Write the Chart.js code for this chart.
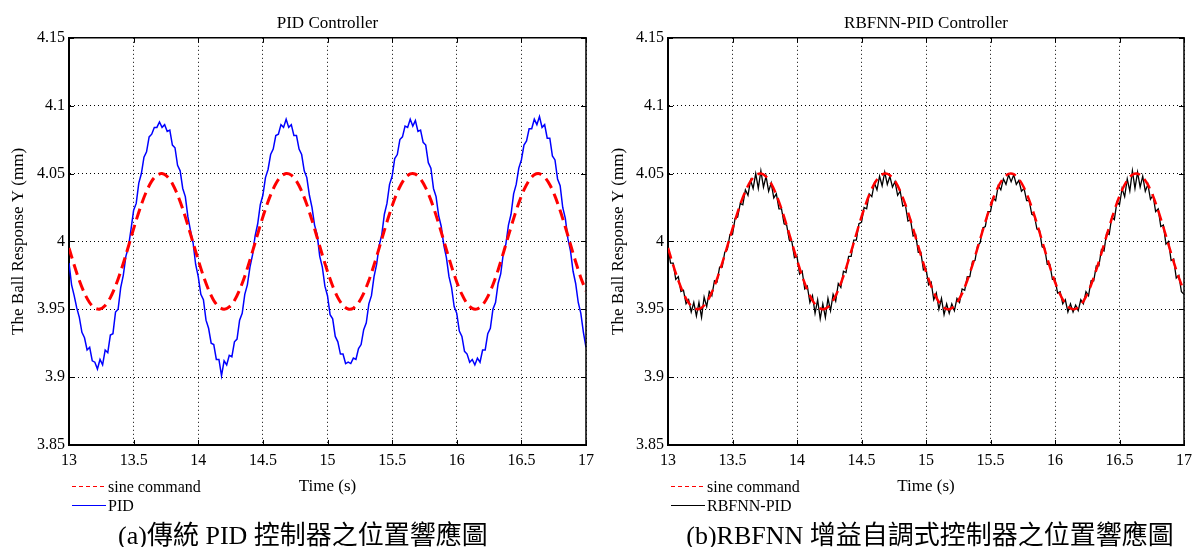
<!DOCTYPE html>
<html>
<head>
<meta charset="utf-8">
<script src="https://cdn.jsdelivr.net/npm/chart.js@4.4.1/dist/chart.umd.min.js"></script>
<style>
  html, body { margin: 0; padding: 0; background: #fff; }
  body { position: relative; width: 1198px; height: 547px; overflow: hidden; }
  canvas { position: absolute; top: 0; }
  #pidChart { left: 0; }
  #rbfnnChart { left: 600px; }
  .caption {
    position: absolute; top: 523px; color: #000; text-align: center; white-space: nowrap;
    font: 26px/26px 'Liberation Serif', 'Noto Sans CJK TC', serif;
  }
</style>
</head>
<body>
<canvas id="pidChart" width="600" height="547"></canvas>
<canvas id="rbfnnChart" width="598" height="547"></canvas>
<div class="caption" style="left:0;width:606px">(a)傳統 PID 控制器之位置響應圖</div>
<div class="caption" style="left:600px;width:660px">(b)RBFNN 增益自調式控制器之位置響應圖</div>
<script>
const serif = "'Liberation Serif', 'Times New Roman', serif";

const xTicks = [13, 13.5, 14, 14.5, 15, 15.5, 16, 16.5, 17];
const xTickLabels = ['13', '13.5', '14', '14.5', '15', '15.5', '16', '16.5', '17'];
const yTicks = [3.85, 3.9, 3.95, 4, 4.05, 4.1, 4.15];
const yTickLabels = ['3.85', '3.9', '3.95', '4', '4.05', '4.1', '4.15'];

// reference sine, sampled every 0.04 s from 13 s
const commandStart = 13;
const commandStep = 0.04;
const sineCommand = [
  3.9952, 3.9826, 3.9712, 3.9617, 3.9548, 3.9508, 3.9502, 3.9528, 3.9586, 3.9671,
  3.9779, 3.9900, 4.0029, 4.0156, 4.0272, 4.0370, 4.0444, 4.0488, 4.0500, 4.0478,
  4.0425, 4.0343, 4.0239, 4.0118, 3.9990, 3.9863, 3.9744, 3.9643, 3.9565, 3.9517,
  3.9500, 3.9517, 3.9565, 3.9643, 3.9744, 3.9863, 3.9990, 4.0119, 4.0239, 4.0343,
  4.0425, 4.0478, 4.0500, 4.0488, 4.0444, 4.0370, 4.0272, 4.0156, 4.0029, 3.9900,
  3.9778, 3.9671, 3.9586, 3.9528, 3.9502, 3.9508, 3.9548, 3.9617, 3.9712, 3.9826,
  3.9952, 4.0081, 4.0204, 4.0314, 4.0403, 4.0465, 4.0497, 4.0495, 4.0460, 4.0395,
  4.0304, 4.0192, 4.0068, 3.9939, 3.9814, 3.9701, 3.9609, 3.9542, 3.9506, 3.9503,
  3.9532, 3.9593, 3.9681, 3.9790, 3.9913, 4.0042, 4.0168, 4.0283, 4.0379, 4.0450,
  4.0491, 4.0499, 4.0474, 4.0418, 4.0334, 4.0227, 4.0106, 3.9977, 3.9850, 3.9733,
  3.9634
];

// measured ball position, sampled every 0.02 s from 13 s
const responseStart = 13;
const responseStep = 0.02;
const pidResponse = [
  3.984, 3.968, 3.960, 3.951, 3.944, 3.933, 3.929, 3.920, 3.922, 3.912,
  3.911, 3.906, 3.913, 3.909, 3.920, 3.918, 3.931, 3.932, 3.948, 3.950,
  3.966, 3.975, 3.989, 3.996, 4.009, 4.023, 4.028, 4.043, 4.050, 4.062,
  4.066, 4.077, 4.079, 4.084, 4.084, 4.088, 4.084, 4.086, 4.081, 4.082,
  4.071, 4.069, 4.056, 4.052, 4.039, 4.033, 4.018, 4.008, 3.999, 3.983,
  3.974, 3.961, 3.957, 3.942, 3.936, 3.925, 3.924, 3.913, 3.913, 3.901,
  3.912, 3.909, 3.916, 3.915, 3.926, 3.928, 3.942, 3.947, 3.961, 3.968,
  3.981, 3.990, 4.004, 4.013, 4.027, 4.034, 4.047, 4.053, 4.064, 4.068,
  4.078, 4.079, 4.086, 4.084, 4.090, 4.084, 4.086, 4.078, 4.078, 4.068,
  4.064, 4.052, 4.047, 4.034, 4.025, 4.012, 4.005, 3.989, 3.981, 3.967,
  3.960, 3.946, 3.943, 3.930, 3.926, 3.917, 3.917, 3.910, 3.911, 3.910,
  3.914, 3.913, 3.921, 3.924, 3.935, 3.940, 3.954, 3.960, 3.974, 3.983,
  3.997, 4.005, 4.020, 4.028, 4.042, 4.048, 4.061, 4.064, 4.075, 4.077,
  4.085, 4.084, 4.090, 4.085, 4.089, 4.081, 4.082, 4.073, 4.071, 4.058,
  4.054, 4.039, 4.033, 4.019, 4.011, 3.997, 3.988, 3.974, 3.966, 3.952,
  3.947, 3.934, 3.930, 3.919, 3.917, 3.911, 3.913, 3.909, 3.914, 3.911,
  3.920, 3.920, 3.932, 3.936, 3.950, 3.955, 3.969, 3.976, 3.991, 3.998,
  4.012, 4.020, 4.035, 4.042, 4.054, 4.060, 4.071, 4.074, 4.083, 4.083,
  4.090, 4.086, 4.092, 4.084, 4.086, 4.076, 4.076, 4.063, 4.060, 4.046,
  4.041, 4.025, 4.017, 4.002, 3.993, 3.978, 3.969, 3.955, 3.947, 3.933,
  3.922
];
const rbfnnResponse = [
  3.995, 3.984, 3.984, 3.972, 3.974, 3.963, 3.964, 3.954, 3.957, 3.948,
  3.955, 3.945, 3.955, 3.944, 3.959, 3.952, 3.963, 3.960, 3.971, 3.970,
  3.981, 3.981, 3.992, 3.994, 4.005, 4.005, 4.017, 4.018, 4.028, 4.027,
  4.038, 4.034, 4.045, 4.039, 4.050, 4.039, 4.052, 4.040, 4.048, 4.037,
  4.043, 4.032, 4.035, 4.024, 4.024, 4.013, 4.012, 4.001, 4.000, 3.988,
  3.989, 3.976, 3.978, 3.965, 3.967, 3.955, 3.960, 3.947, 3.957, 3.943,
  3.954, 3.944, 3.958, 3.949, 3.961, 3.956, 3.969, 3.966, 3.978, 3.977,
  3.989, 3.989, 4.001, 4.001, 4.013, 4.014, 4.025, 4.024, 4.035, 4.033,
  4.043, 4.038, 4.048, 4.041, 4.051, 4.042, 4.048, 4.040, 4.044, 4.034,
  4.037, 4.026, 4.027, 4.015, 4.016, 4.004, 4.005, 3.992, 3.992, 3.979,
  3.980, 3.968, 3.970, 3.957, 3.962, 3.950, 3.958, 3.946, 3.954, 3.947,
  3.954, 3.949, 3.958, 3.955, 3.965, 3.964, 3.974, 3.974, 3.985, 3.986,
  3.997, 3.999, 4.010, 4.011, 4.022, 4.022, 4.032, 4.030, 4.041, 4.038,
  4.046, 4.042, 4.049, 4.044, 4.049, 4.042, 4.045, 4.037, 4.039, 4.030,
  4.030, 4.020, 4.019, 4.009, 4.008, 3.996, 3.995, 3.983, 3.983, 3.972,
  3.972, 3.962, 3.963, 3.954, 3.957, 3.948, 3.954, 3.948, 3.953, 3.949,
  3.957, 3.954, 3.963, 3.960, 3.971, 3.971, 3.982, 3.982, 3.994, 3.993,
  4.006, 4.005, 4.018, 4.016, 4.029, 4.027, 4.039, 4.033, 4.046, 4.037,
  4.052, 4.039, 4.051, 4.040, 4.048, 4.037, 4.042, 4.031, 4.034, 4.022,
  4.024, 4.011, 4.012, 3.998, 4.000, 3.986, 3.987, 3.973, 3.975, 3.963,
  3.961
];

function toPoints(values, start, step) {
  return values.map((y, i) => ({ x: start + i * step, y: y }));
}

// full box around the plot plus inward tick marks on every side
const plotFrame = {
  id: 'plotFrame',
  afterDatasetsDraw(chart) {
    const { ctx, chartArea: a, scales: { x, y } } = chart;
    ctx.save();
    ctx.strokeStyle = '#000';
    ctx.lineWidth = 1;
    ctx.beginPath();
    x.ticks.forEach((t) => {
      const px = Math.round(x.getPixelForValue(t.value)) + 0.5;
      ctx.moveTo(px, a.bottom); ctx.lineTo(px, a.bottom - 5);
      ctx.moveTo(px, a.top); ctx.lineTo(px, a.top + 5);
    });
    y.ticks.forEach((t) => {
      const py = Math.round(y.getPixelForValue(t.value)) + 0.5;
      ctx.moveTo(a.left, py); ctx.lineTo(a.left + 5, py);
      ctx.moveTo(a.right, py); ctx.lineTo(a.right - 5, py);
    });
    ctx.stroke();
    ctx.lineWidth = 1.5;
    ctx.beginPath();
    ctx.moveTo(a.left, a.top);
    ctx.lineTo(a.right, a.top);
    ctx.lineTo(a.right, a.bottom);
    ctx.stroke();
    ctx.restore();
  }
};

// stacked legend under the lower left corner of the plot
const cornerLegend = {
  id: 'cornerLegend',
  afterDraw(chart) {
    const { ctx, chartArea: a } = chart;
    ctx.save();
    ctx.font = '16px ' + serif;
    ctx.textBaseline = 'middle';
    chart.data.datasets.forEach((ds, i) => {
      const rowY = a.bottom + 41.5 + i * 19;
      ctx.strokeStyle = ds.borderColor;
      ctx.lineWidth = 1;
      ctx.setLineDash(ds.legendDash || []);
      ctx.beginPath();
      ctx.moveTo(a.left + 3, rowY);
      ctx.lineTo(a.left + 37, rowY);
      ctx.stroke();
      ctx.setLineDash([]);
      ctx.fillStyle = '#000';
      ctx.fillText(ds.label, a.left + 39, rowY + 1);
    });
    ctx.restore();
  }
};

function makeChart(canvasId, title, response, responseLabel, responseColor, responseWidth, axisWidth, rightPad, dashWidth) {
  return new Chart(document.getElementById(canvasId), {
    type: 'line',
    data: {
      datasets: [
        {
          label: 'sine command',
          data: toPoints(sineCommand, commandStart, commandStep),
          borderColor: '#ff0000',
          borderWidth: dashWidth,
          borderDash: [11, 6],
          legendDash: [4, 3],
          pointRadius: 0,
          tension: 0.3,
        },
        {
          label: responseLabel,
          data: toPoints(response, responseStart, responseStep),
          borderColor: responseColor,
          borderWidth: responseWidth,
          pointRadius: 0,
          tension: 0,
        },
      ],
    },
    options: {
      responsive: false,
      animation: false,
      events: [],
      layout: { padding: { left: 0, right: rightPad, top: 0, bottom: 50 } },
      plugins: {
        legend: { display: false },
        tooltip: { enabled: false },
        title: {
          display: true,
          text: title,
          fullSize: false,
          color: '#000',
          font: { family: serif, size: 17, weight: 'normal' },
          padding: { top: 13.4, bottom: 4 },
        },
      },
      scales: {
        x: {
          type: 'linear',
          min: 13,
          max: 17,
          afterBuildTicks: (scale) => { scale.ticks = xTicks.map((v) => ({ value: v })); },
          afterFit: (scale) => { scale.height = 52; },
          ticks: {
            color: '#000',
            font: { family: serif, size: 16 },
            padding: 6,
            maxRotation: 0,
            callback: (value, index) => xTickLabels[index],
          },
          grid: { color: '#000', lineWidth: 1, drawTicks: false },
          border: { display: true, color: '#000', width: 2, dash: [1, 3] },
          title: {
            display: true,
            text: 'Time (s)',
            color: '#000',
            font: { family: serif, size: 17 },
            padding: { top: 0, bottom: 0 },
          },
        },
        y: {
          type: 'linear',
          min: 3.85,
          max: 4.15,
          afterBuildTicks: (scale) => { scale.ticks = yTicks.map((v) => ({ value: v })); },
          afterFit: (scale) => { scale.width = axisWidth; },
          ticks: {
            color: '#000',
            font: { family: serif, size: 16 },
            padding: 4,
            callback: (value, index) => yTickLabels[index],
          },
          grid: { color: '#000', lineWidth: 1, drawTicks: false },
          border: { display: true, color: '#000', width: 2, dash: [1, 3] },
          title: {
            display: true,
            text: 'The Ball Response Y (mm)',
            color: '#000',
            font: { family: serif, size: 17 },
            padding: { top: 8, bottom: 0 },
          },
        },
      },
    },
    plugins: [plotFrame, cornerLegend],
  });
}

makeChart('pidChart', 'PID Controller', pidResponse, 'PID', '#0000ff', 1.5, 69, 12.5, 3);
makeChart('rbfnnChart', 'RBFNN-PID Controller', rbfnnResponse, 'RBFNN-PID', '#000000', 1.3, 68, 10, 2.5);
</script>
</body>
</html>
